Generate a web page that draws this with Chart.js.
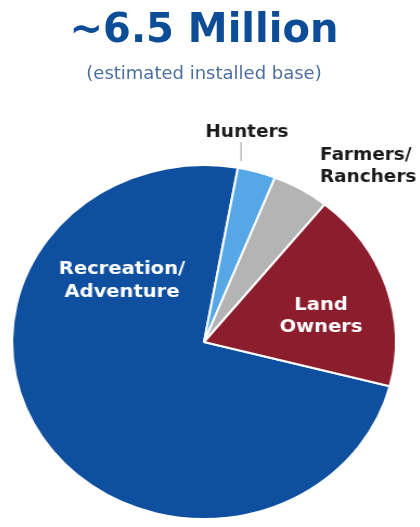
<!DOCTYPE html>
<html>
<head>
<meta charset="utf-8">
<script src="https://cdn.jsdelivr.net/npm/chart.js@4/dist/chart.umd.min.js"></script>
<style>
    html, body { margin: 0; padding: 0; background: #fff; overflow: hidden; }
    body { width: 420px; height: 527px; position: relative; font-family: "DejaVu Sans", Verdana, sans-serif; }
    #head { position: absolute; left: 0; top: 0; width: 408px; text-align: center; z-index: 2; }
    #head h1 { margin: 0; padding-top: 8px; font-size: 40px; font-weight: bold; color: #0d4c97; line-height: 40px; }
    #head p { margin: 0; padding-top: 15px; font-size: 18px; color: #4d6f9f; line-height: 20px; }
    #wrap { position: absolute; left: 0; top: 0; width: 420px; height: 527px; transform: scaleX(1.084); transform-origin: 204px 0; }
</style>
</head>
<body>
<div id="head">
    <h1>~6.5 Million</h1>
    <p>(estimated installed base)</p>
</div>
<div id="wrap"><canvas id="pie" width="420" height="527"></canvas></div>
<script>
// Segments, clockwise from the Land Owners / Recreation border
const categories = ['Recreation/Adventure', 'Hunters', 'Farmers/Ranchers', 'Land Owners'];
const shares = [73.8, 3.2, 4.8, 18.2];
const sliceColors = ['#0e4fa0', '#55a7e6', '#b4b4b4', '#8c1d2c'];

// Horizontal stretch of the pie (the picture is wider than tall)
const stretch = 1.084;
const cx = 204;
const sx = x => cx + (x - cx) / stretch;

// Labels on and around the slices
const sliceLabels = {
    id: 'sliceLabels',
    afterDatasetsDraw(chart) {
        const ctx = chart.ctx;
        ctx.save();
        ctx.textAlign = 'center';
        ctx.textBaseline = 'middle';
        ctx.font = 'bold 18px "DejaVu Sans", Verdana, sans-serif';

        // inside labels (white)
        ctx.fillStyle = '#ffffff';
        ctx.fillText('Recreation/', sx(122), 269);
        ctx.fillText('Adventure', sx(122), 292);
        ctx.fillText('Land', sx(321), 305);
        ctx.fillText('Owners', sx(321), 327);

        // outside labels (dark)
        ctx.font = 'bold 17px "DejaVu Sans", Verdana, sans-serif';
        ctx.fillStyle = '#1a1a1a';
        ctx.fillText('Hunters', sx(247), 133);
        ctx.textAlign = 'left';
        ctx.fillText('Farmers/', sx(320), 156);
        ctx.fillText('Ranchers', sx(320), 178);

        // leader line for Hunters
        ctx.strokeStyle = '#9a9a9a';
        ctx.lineWidth = 1;
        ctx.beginPath();
        ctx.moveTo(sx(241), 142);
        ctx.lineTo(sx(241), 161);
        ctx.stroke();
        ctx.restore();
    }
};

const ctx = document.getElementById('pie').getContext('2d');
new Chart(ctx, {
    type: 'pie',
    data: {
        labels: categories,
        datasets: [{
            data: shares,
            backgroundColor: sliceColors,
            borderColor: '#ffffff',
            borderWidth: 2,
        }],
    },
    options: {
        responsive: false,
        animation: false,
        rotation: 104.5,
        layout: { padding: { left: 26, right: 38, top: 164, bottom: 7 } },
        plugins: {
            legend: { display: false },
            tooltip: { enabled: false },
        },
    },
    plugins: [sliceLabels],
});
</script>
</body>
</html>
